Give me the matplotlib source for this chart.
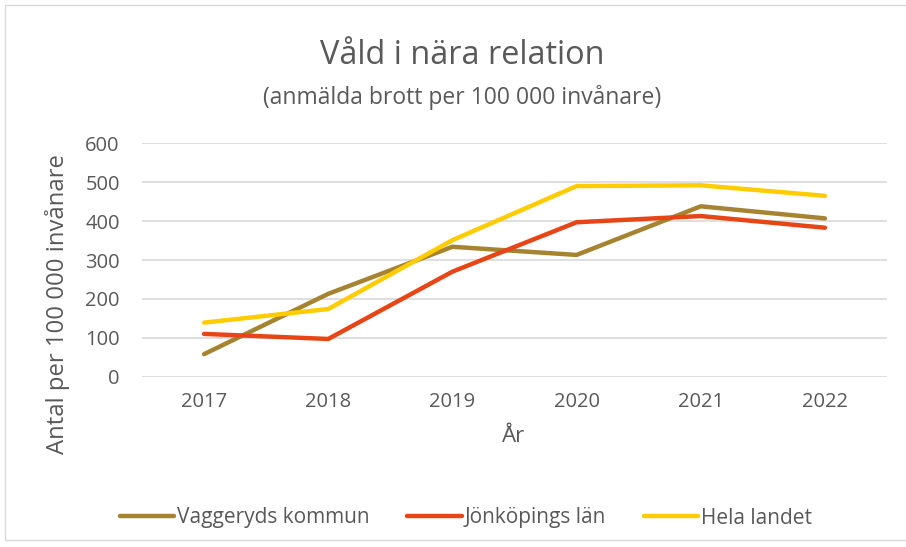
import matplotlib.pyplot as plt
from matplotlib.patches import Rectangle

years = ['2017', '2018', '2019', '2020', '2021', '2022']
vaggeryd = [58, 213, 334, 313, 438, 407]
jonkoping = [110, 97, 270, 397, 413, 383]
hela = [139, 174, 351, 490, 492, 465]
series_names = ['Vaggeryds kommun', 'Jönköpings län', 'Hela landet']
colors = ['#A68330', '#E84517', '#FFCC00']

plt.rcParams['font.family'] = ['Open Sans', 'DejaVu Sans']
txt = '#595959'
W, H = 906, 547

fig = plt.figure(figsize=(9.06, 5.47), dpi=100)
fig.patches.append(Rectangle((5/W, 7/H), 1.0, 535/H, transform=fig.transFigure,
                             fill=False, edgecolor='#D9D9D9', linewidth=1))
ax = fig.add_axes([142/W, 1 - 376.7/H, 745/W, 233.4/H])

x = range(len(years))
for vals, name, c in zip([vaggeryd, jonkoping, hela], series_names, colors):
    ax.plot(x, vals, color=c, linewidth=3.2, solid_capstyle='round',
            solid_joinstyle='round', label=name)

ax.set_xlim(-0.5, 5.5)
ax.set_ylim(0, 600)
ax.set_yticks(range(0, 601, 100))
ax.set_xticks(list(x))
ax.set_xticklabels(years)
ax.grid(axis='y', color='#D9D9D9', linewidth=1.2)
ax.set_axisbelow(True)
for s in ax.spines.values():
    s.set_visible(False)
ax.tick_params(length=0, labelsize=14.5, colors=txt)
ax.tick_params(axis='x', pad=11)
ax.tick_params(axis='y', pad=16)

fig.text(514/W, 1 - 436/H, 'År', ha='center', va='center', fontsize=16, color=txt)
fig.text(58/W, 1 - 304/H, 'Antal per 100 000 invånare', ha='center', va='center',
         rotation=90, fontsize=17.2, color=txt)

fig.text(462/W, 1 - 55/H, 'Våld i nära relation', ha='center', va='center',
         fontsize=23.4, color=txt)
fig.text(462/W, 1 - 97/H, '(anmälda brott per 100 000 invånare)', ha='center',
         va='center', fontsize=16.5, color=txt)

fig.legend(loc='center', bbox_to_anchor=(466/W, 1 - 518/H), ncol=3, frameon=False,
           fontsize=15, labelcolor=txt, handlelength=2.6, handletextpad=0.15,
           columnspacing=1.8)

fig.savefig('out.png', dpi=100)
